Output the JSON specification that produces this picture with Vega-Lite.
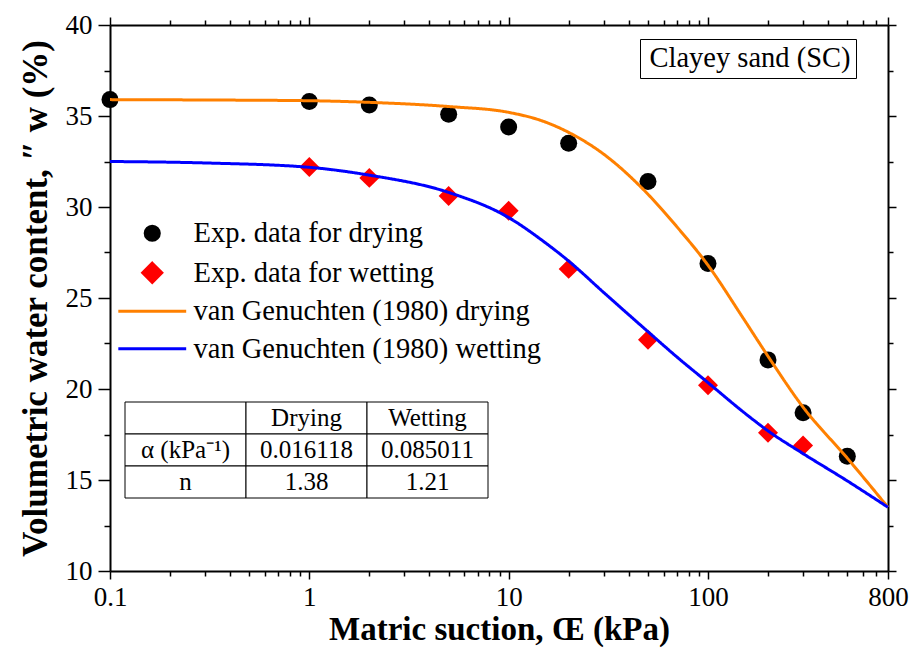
{
  "$schema": "https://vega.github.io/schema/vega-lite/v6.json",
  "width": 778,
  "height": 546,
  "autosize": "none",
  "padding": {"left": 110, "top": 25, "right": 29, "bottom": 82},
  "background": "white",
  "config": {
    "view": {"stroke": null},
    "axis": {
      "grid": false,
      "domainColor": "black",
      "domainWidth": 2,
      "tickColor": "black",
      "tickWidth": 1.5,
      "labelColor": "black",
      "titleColor": "black",
      "labelFont": "Liberation Serif",
      "titleFont": "Liberation Serif"
    }
  },
  "datasets": {
    "exp": [
      {"psi": 0.1, "theta": 35.9, "series": "Exp. data for drying"},
      {"psi": 1, "theta": 35.8, "series": "Exp. data for drying"},
      {"psi": 2, "theta": 35.6, "series": "Exp. data for drying"},
      {"psi": 5, "theta": 35.1, "series": "Exp. data for drying"},
      {"psi": 10, "theta": 34.4, "series": "Exp. data for drying"},
      {"psi": 20, "theta": 33.5, "series": "Exp. data for drying"},
      {"psi": 50, "theta": 31.4, "series": "Exp. data for drying"},
      {"psi": 100, "theta": 26.9, "series": "Exp. data for drying"},
      {"psi": 200, "theta": 21.6, "series": "Exp. data for drying"},
      {"psi": 300, "theta": 18.7, "series": "Exp. data for drying"},
      {"psi": 500, "theta": 16.3, "series": "Exp. data for drying"},
      {"psi": 1, "theta": 32.2, "series": "Exp. data for wetting"},
      {"psi": 2, "theta": 31.6, "series": "Exp. data for wetting"},
      {"psi": 5, "theta": 30.6, "series": "Exp. data for wetting"},
      {"psi": 10, "theta": 29.8, "series": "Exp. data for wetting"},
      {"psi": 20, "theta": 26.6, "series": "Exp. data for wetting"},
      {"psi": 50, "theta": 22.7, "series": "Exp. data for wetting"},
      {"psi": 100, "theta": 20.2, "series": "Exp. data for wetting"},
      {"psi": 200, "theta": 17.6, "series": "Exp. data for wetting"},
      {"psi": 300, "theta": 16.9, "series": "Exp. data for wetting"}
    ],
    "fit": [
      {"psi": 0.1, "theta": 35.9, "series": "van Genuchten (1980) drying"},
      {"psi": 0.3, "theta": 35.88, "series": "van Genuchten (1980) drying"},
      {"psi": 1, "theta": 35.84, "series": "van Genuchten (1980) drying"},
      {"psi": 2, "theta": 35.75, "series": "van Genuchten (1980) drying"},
      {"psi": 5, "theta": 35.52, "series": "van Genuchten (1980) drying"},
      {"psi": 10, "theta": 35.2, "series": "van Genuchten (1980) drying"},
      {"psi": 15, "theta": 34.7, "series": "van Genuchten (1980) drying"},
      {"psi": 20, "theta": 34.1, "series": "van Genuchten (1980) drying"},
      {"psi": 30, "theta": 32.9, "series": "van Genuchten (1980) drying"},
      {"psi": 50, "theta": 30.7, "series": "van Genuchten (1980) drying"},
      {"psi": 70, "theta": 28.9, "series": "van Genuchten (1980) drying"},
      {"psi": 100, "theta": 26.8, "series": "van Genuchten (1980) drying"},
      {"psi": 150, "theta": 23.9, "series": "van Genuchten (1980) drying"},
      {"psi": 200, "theta": 21.8, "series": "van Genuchten (1980) drying"},
      {"psi": 300, "theta": 19.0, "series": "van Genuchten (1980) drying"},
      {"psi": 500, "theta": 16.2, "series": "van Genuchten (1980) drying"},
      {"psi": 800, "theta": 13.5, "series": "van Genuchten (1980) drying"},
      {"psi": 0.1, "theta": 32.5, "series": "van Genuchten (1980) wetting"},
      {"psi": 0.3, "theta": 32.42, "series": "van Genuchten (1980) wetting"},
      {"psi": 1, "theta": 32.18, "series": "van Genuchten (1980) wetting"},
      {"psi": 2, "theta": 31.75, "series": "van Genuchten (1980) wetting"},
      {"psi": 5, "theta": 30.8, "series": "van Genuchten (1980) wetting"},
      {"psi": 10, "theta": 29.42, "series": "van Genuchten (1980) wetting"},
      {"psi": 15, "theta": 28.1, "series": "van Genuchten (1980) wetting"},
      {"psi": 20, "theta": 27.03, "series": "van Genuchten (1980) wetting"},
      {"psi": 30, "theta": 25.3, "series": "van Genuchten (1980) wetting"},
      {"psi": 50, "theta": 23.15, "series": "van Genuchten (1980) wetting"},
      {"psi": 70, "theta": 21.75, "series": "van Genuchten (1980) wetting"},
      {"psi": 100, "theta": 20.35, "series": "van Genuchten (1980) wetting"},
      {"psi": 150, "theta": 18.75, "series": "van Genuchten (1980) wetting"},
      {"psi": 200, "theta": 17.7, "series": "van Genuchten (1980) wetting"},
      {"psi": 300, "theta": 16.45, "series": "van Genuchten (1980) wetting"},
      {"psi": 500, "theta": 14.95, "series": "van Genuchten (1980) wetting"},
      {"psi": 800, "theta": 13.5, "series": "van Genuchten (1980) wetting"}
    ],
    "table": [
      {"row": "h", "col": "p", "text": ""},
      {"row": "h", "col": "d", "text": "Drying"},
      {"row": "h", "col": "w", "text": "Wetting"},
      {"row": "a", "col": "p", "text": "α (kPa⁻¹)"},
      {"row": "a", "col": "d", "text": "0.016118"},
      {"row": "a", "col": "w", "text": "0.085011"},
      {"row": "n", "col": "p", "text": "n"},
      {"row": "n", "col": "d", "text": "1.38"},
      {"row": "n", "col": "w", "text": "1.21"}
    ]
  },
  "layer": [
    {
      "layer": [
        {
          "data": {"name": "exp"},
          "mark": {"type": "point", "filled": true, "opacity": 1, "strokeWidth": 0},
          "encoding": {
            "x": {
              "field": "psi", "type": "quantitative",
              "scale": {"type": "log", "domain": [0.1, 800], "nice": false},
              "axis": {
                "orient": "bottom",
                "values": [0.1,0.2,0.3,0.4,0.5,0.6,0.7,0.8,0.9,1,2,3,4,5,6,7,8,9,10,20,30,40,50,60,70,80,90,100,200,300,400,500,600,700,800],
                "labelExpr": "indexof([0.1,1,10,100,800], datum.value) >= 0 ? '' + datum.value : ''",
                "tickSize": {"condition": {"test": "indexof([0.1,1,10,100,800], datum.value) >= 0", "value": 8}, "value": 5},
                "labelFontSize": 27,
                "labelPadding": 5,
                "labelOverlap": false,
                "labelFlush": false,
                "labelBound": false,
                "title": "Matric suction, Œ (kPa)",
                "titleFontSize": 33,
                "titleFontWeight": "bold",
                "titlePadding": 3
              }
            },
            "y": {
              "field": "theta", "type": "quantitative",
              "scale": {"domain": [10, 40], "nice": false, "zero": false},
              "axis": {
                "orient": "left",
                "values": [10,12.5,15,17.5,20,22.5,25,27.5,30,32.5,35,37.5,40],
                "labelExpr": "datum.value % 5 === 0 ? '' + datum.value : ''",
                "tickSize": {"condition": {"test": "datum.value % 5 === 0", "value": 12}, "value": 6},
                "labelFontSize": 27,
                "labelPadding": 6,
                "labelOverlap": false,
                "labelBound": false,
                "title": "Volumetric water content, ″ w (%)",
                "titleFontSize": 35,
                "titleFontWeight": "bold",
                "titlePadding": 12
              }
            },
            "color": {
              "field": "series", "type": "nominal",
              "scale": {
                "domain": ["Exp. data for drying", "Exp. data for wetting", "van Genuchten (1980) drying", "van Genuchten (1980) wetting"],
                "range": ["#000000", "#FF0000", "#FF8000", "#0000FF"]
              },
              "legend": {
                "title": null,
                "orient": "none",
                "legendX": 28,
                "legendY": 194,
                "padding": 0,
                "rowPadding": 8.5,
                "labelFont": "Liberation Serif",
                "labelFontSize": 28.5,
                "labelColor": "black",
                "labelLimit": 600,
                "labelOffset": 27,
                "symbolSize": 200,
                "symbolStrokeWidth": 3,
                "encode": {
                  "symbols": {
                    "update": {
                      "stroke": {"signal": "indexof(datum.value, 'van') === 0 ? scale('color', datum.value) : 'transparent'"},
                      "strokeWidth": {"value": 3},
                      "fill": {"signal": "indexof(datum.value, 'van') === 0 ? 'transparent' : scale('color', datum.value)"},
                      "opacity": {"value": 1}
                    }
                  }
                }
              }
            },
            "shape": {
              "field": "series", "type": "nominal",
              "scale": {
                "domain": ["Exp. data for drying", "Exp. data for wetting", "van Genuchten (1980) drying", "van Genuchten (1980) wetting"],
                "range": ["circle", "M0,-1.35L1.35,0L0,1.35L-1.35,0Z", "M-4.8,0H4.8", "M-4.8,0H4.8"]
              }
            },
            "size": {
              "field": "series", "type": "nominal",
              "scale": {"domain": ["Exp. data for drying", "Exp. data for wetting"], "range": [289, 219]},
              "legend": null
            }
          }
        },
        {
          "data": {"name": "fit"},
          "mark": {"type": "line", "strokeWidth": 3, "interpolate": "monotone"},
          "encoding": {
            "x": {
              "field": "psi", "type": "quantitative",
              "axis": {
                "orient": "top",
                "values": [0.1,0.2,0.3,0.4,0.5,0.6,0.7,0.8,0.9,1,2,3,4,5,6,7,8,9,10,20,30,40,50,60,70,80,90,100,200,300,400,500,600,700,800],
                "labels": false,
                "title": null,
                "tickSize": {"condition": {"test": "indexof([0.1,1,10,100,800], datum.value) >= 0", "value": 8}, "value": 5}
              }
            },
            "y": {
              "field": "theta", "type": "quantitative",
              "axis": {
                "orient": "right",
                "values": [10,12.5,15,17.5,20,22.5,25,27.5,30,32.5,35,37.5,40],
                "labels": false,
                "title": null,
                "tickSize": {"condition": {"test": "datum.value % 5 === 0", "value": 8}, "value": 5}
              }
            },
            "color": {"field": "series", "type": "nominal"},
            "strokeDash": {
              "datum": "Clayey sand (SC)", "type": "nominal",
              "scale": {"range": [[1, 0]]},
              "legend": {
                "title": null,
                "orient": "none",
                "legendX": 530,
                "legendY": 14,
                "padding": 5,
                "strokeColor": "black",
                "symbolSize": 0,
                "symbolOpacity": 0,
                "symbolStrokeWidth": 0,
                "labelOffset": -24,
                "labelFont": "Liberation Serif",
                "labelFontSize": 28.5,
                "labelColor": "black",
                "labelLimit": 600
              }
            }
          }
        }
      ],
      "resolve": {"axis": {"x": "independent", "y": "independent"}}
    },
    {
      "data": {"name": "table"},
      "encoding": {
        "x": {
          "field": "col", "type": "nominal",
          "scale": {"domain": ["p", "d", "w"], "range": [15, 378], "paddingInner": 0, "paddingOuter": 0},
          "axis": null
        },
        "y": {
          "field": "row", "type": "nominal",
          "scale": {"domain": ["h", "a", "n"], "range": [377, 473], "paddingInner": 0, "paddingOuter": 0},
          "axis": null
        }
      },
      "layer": [
        {"mark": {"type": "rect", "fill": "white", "stroke": "black", "strokeWidth": 1}},
        {
          "mark": {"type": "text", "font": "Liberation Serif", "fontSize": 25, "color": "black", "align": "center", "baseline": "middle"},
          "encoding": {"text": {"field": "text"}}
        }
      ]
    }
  ],
  "resolve": {
    "scale": {"x": "independent", "y": "independent"},
    "axis": {"x": "independent", "y": "independent"}
  }
}
